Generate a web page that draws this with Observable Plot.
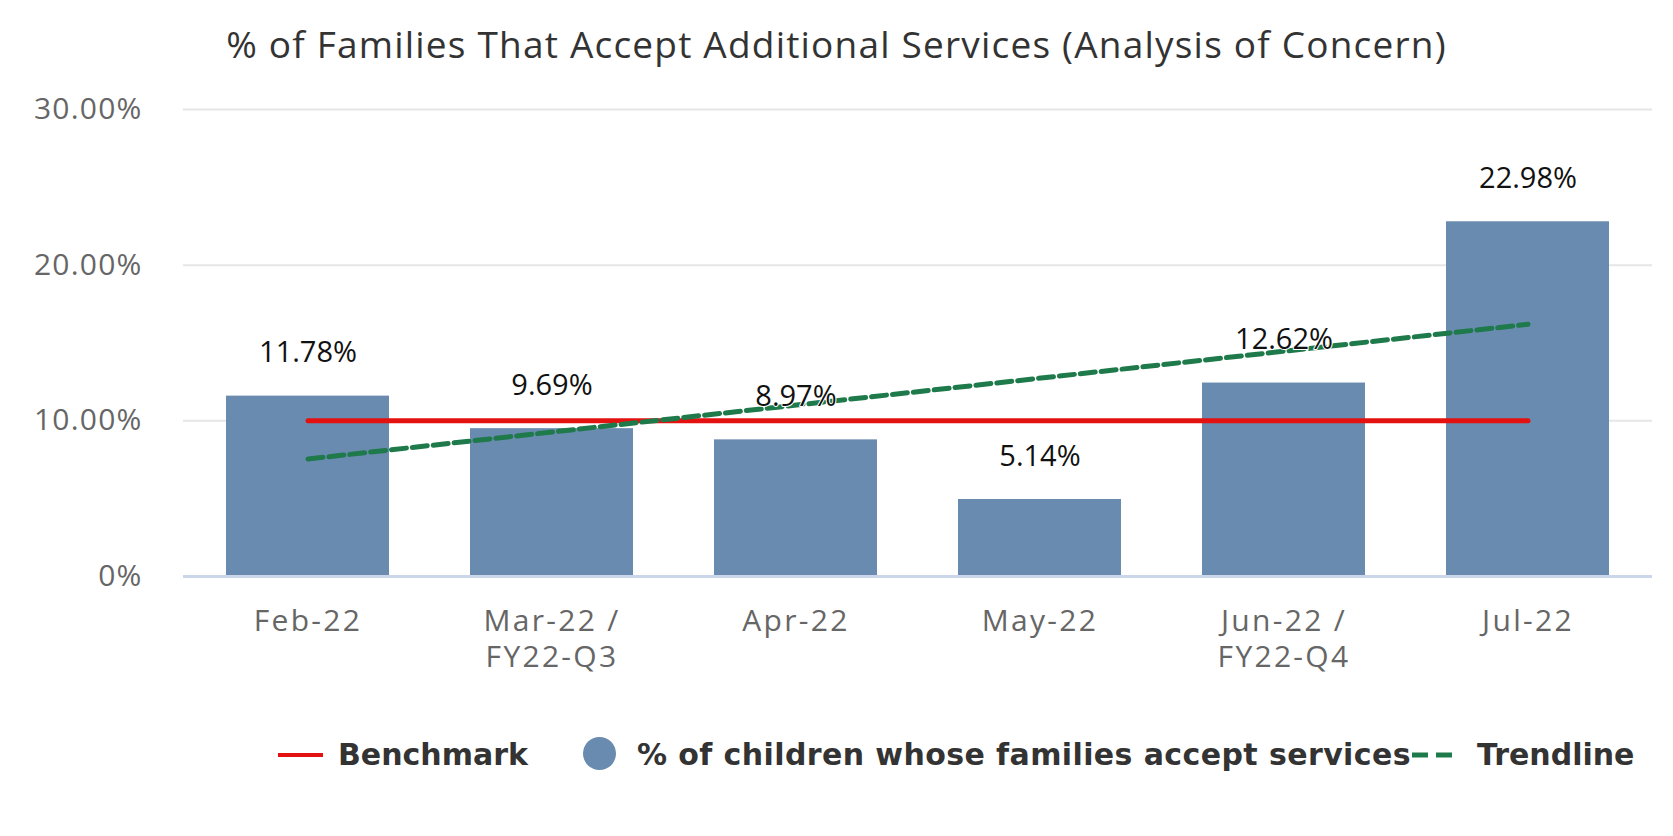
<!DOCTYPE html>
<html><head><meta charset="utf-8">
<script src="https://cdn.jsdelivr.net/npm/d3@7"></script>
<script src="https://cdn.jsdelivr.net/npm/@observablehq/plot@0.6"></script>
<style>
body{margin:0;background:#fff;}
#wrap{position:relative;width:1673px;height:836px;overflow:hidden;background:#fff;}
#title{position:absolute;left:0;top:25px;width:1673px;text-align:center;font-family:"Open Sans";font-size:37px;letter-spacing:1.2px;color:#333;line-height:37px;white-space:nowrap;}
#chart{position:absolute;left:0;top:80px;}
#chart g[aria-label="x-axis tick label"] text{letter-spacing:2.3px;}
#chart g[aria-label="y-axis tick label"] text{letter-spacing:1.2px;}
.leg{position:absolute;top:740px;font-family:"DejaVu Sans";font-weight:bold;font-size:30px;color:#333;line-height:30px;white-space:nowrap;}
</style></head><body>
<div id="wrap">
<div id="title">% of Families That Accept Additional Services (Analysis of Concern)</div>
<div id="chart"></div>
<div id="legend"></div>
</div>
<script>
const months = ["Feb-22","Mar-22","Apr-22","May-22","Jun-22","Jul-22"];
const monthLabels = ["Feb-22","Mar-22 /\nFY22-Q3","Apr-22","May-22","Jun-22 /\nFY22-Q4","Jul-22"];
const acceptRates = [11.78, 9.69, 8.97, 5.14, 12.62, 22.98];
const benchmarkValue = 10;
const trendMonths = ["Feb-22","Jul-22"];
const trendValues = [7.55, 16.2];
const yTicks = [0, 10, 20, 30];
const yTickLabels = ["0%", "10.00%", "20.00%", "30.00%"];
const seriesNames = ["Benchmark", "% of children whose families accept services", "Trendline"];

const barColor = "#6a8bb0", benchColor = "#e3110f", trendColor = "#1e7a4a";

const bars = months.map((m, i) => ({month: m, value: acceptRates[i]}));
const bench = [months[0], months[months.length - 1]].map(m => ({month: m, value: benchmarkValue}));
const trend = trendMonths.map((m, i) => ({month: m, value: trendValues[i]}));

const chart = Plot.plot({
  width: 1673, height: 610,
  marginLeft: 183, marginRight: 21, marginTop: 29, marginBottom: 114,
  style: {fontFamily: "Open Sans", background: "transparent"},
  x: {domain: months, paddingInner: 0.33, paddingOuter: 0.165, label: null},
  y: {domain: [0, 30], label: null},
  marks: [
    Plot.gridY(yTicks, {stroke: "#e6e6e6", strokeOpacity: 1, strokeWidth: 2}),
    Plot.barY(bars, {x: "month", y: "value", fill: barColor, insetTop: 3}),
    Plot.ruleY([0], {stroke: "#ccd6eb", strokeWidth: 3}),
    Plot.axisY(yTicks, {tickFormat: d => yTickLabels[yTicks.indexOf(d)], tickSize: 0, tickPadding: 41, fontSize: 30, fill: "#666", label: null}),
    Plot.axisX({tickFormat: d => monthLabels[months.indexOf(d)], tickSize: 0, tickPadding: 30, fontSize: 30, fill: "#666", lineHeight: 1.17, label: null}),
    Plot.line(bench, {x: "month", y: "value", stroke: benchColor, strokeWidth: 5}),
    Plot.line(trend, {x: "month", y: "value", stroke: trendColor, strokeWidth: 5, strokeDasharray: "15,6"}),
    Plot.text(bars, {x: "month", y: "value", text: d => d.value.toFixed(2) + "%", dy: -40, fontSize: 29, fill: "#111", stroke: "white", strokeWidth: 2})
  ]
});
document.getElementById("chart").appendChild(chart);

const legend = document.getElementById("legend");
function add(html, left, extra) {
  const d = document.createElement("div");
  d.className = "leg";
  d.style.left = left + "px";
  if (extra) Object.assign(d.style, extra);
  d.innerHTML = html;
  legend.appendChild(d);
}
add("", 278, {top: "753px", width: "45px", height: "4px", background: benchColor});
add(seriesNames[0], 338);
add("", 583, {top: "737px", width: "33px", height: "33px", borderRadius: "50%", background: barColor});
add(seriesNames[1], 637, {letterSpacing: "0.4px"});
add(`<svg width="40" height="6" style="display:block"><line x1="0" y1="3" x2="40" y2="3" stroke="${trendColor}" stroke-width="5" stroke-dasharray="16,8"/></svg>`, 1412, {top: "752px", height: "6px", lineHeight: "6px"});
add(seriesNames[2], 1477);
</script>
</body></html>
